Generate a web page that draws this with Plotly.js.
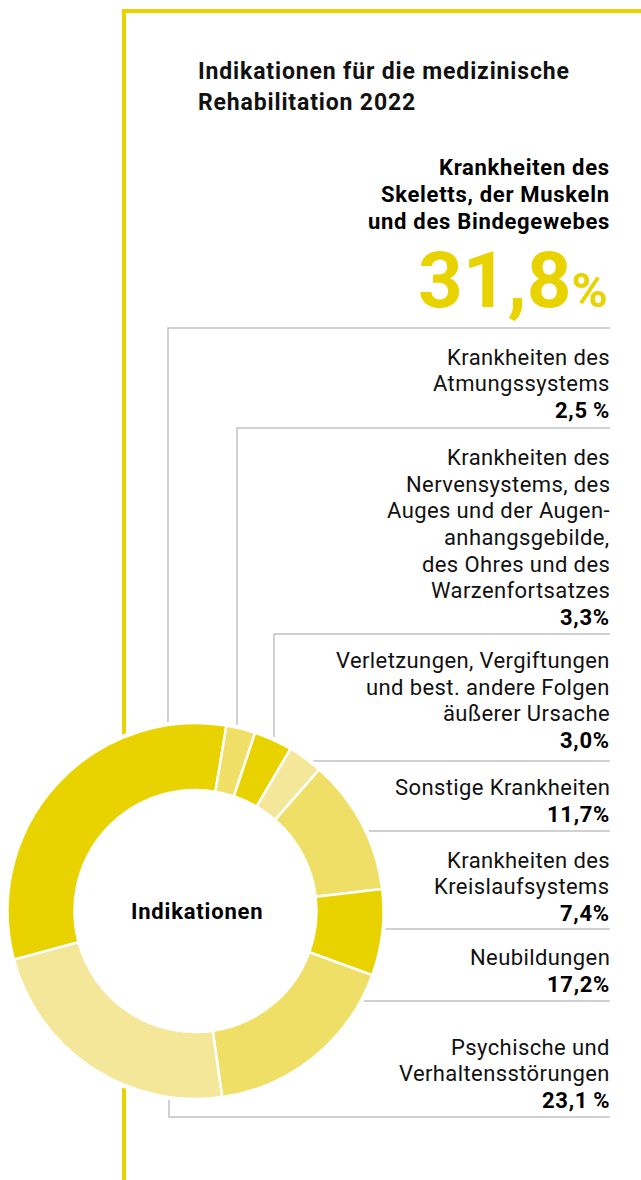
<!DOCTYPE html>
<html><head><meta charset="utf-8">
<script src="https://cdn.plot.ly/plotly-3.0.1.min.js"></script>
<style>html,body{margin:0;padding:0;background:#fff;}#chart{width:641px;height:1180px;}</style>
</head><body><div id="chart"></div>
<script>
// ---- data ----
const chartTitle = ['Indikationen für die medizinische', 'Rehabilitation 2022'];
const centerLabel = 'Indikationen';
const categories = [
  'Krankheiten des<br>Skeletts, der Muskeln<br>und des Bindegewebes',
  'Krankheiten des<br>Atmungssystems',
  'Krankheiten des<br>Nervensystems, des<br>Auges und der Augen-<br>anhangsgebilde,<br>des Ohres und des<br>Warzenfortsatzes',
  'Verletzungen, Vergiftungen<br>und best. andere Folgen<br>äußerer Ursache',
  'Sonstige Krankheiten',
  'Krankheiten des<br>Kreislaufsystems',
  'Neubildungen',
  'Psychische und<br>Verhaltensstörungen'
];
const shares = [31.8, 2.5, 3.3, 3.0, 11.7, 7.4, 17.2, 23.1];
const percentSpacing = ['', '\u2009', '', '', '', '', '', '\u2009'];

// ---- styling / layout ----
const W = 641, H = 1180;
const X = p => p / W, Y = p => 1 - p / H;
const dark = '#E8D300', mid = '#F0DF66', light = '#F4E79A';
const sliceColors = [dark, mid, dark, light, mid, dark, mid, light];
const cx = 195.5, cy = 911, R = 188, Rin = 121;
const labelRight = 610;
const leaderY = [328, 428, 634, 761, 831, 929, 1001, 1117];
const leaderX = [168, 237, 274, null, null, null, null, 169];
const valueGap = [0, 10, 9, 13, 9, 8, 9, 9];
const lineGap = 26.6;
const fontFam = 'Roboto, Arial, sans-serif';
const fs = 22;

const fmt = (v, i) => v.toFixed(1).replace('.', ',') + percentSpacing[i] + '%';

const trace = {
  type: 'pie',
  values: shares,
  labels: categories.map(c => c.replace(/<br>/g, ' ')),
  sort: false,
  direction: 'clockwise',
  rotation: -105,
  hole: Rin / R,
  textinfo: 'none',
  hoverinfo: 'label+percent',
  marker: { colors: sliceColors, line: { color: '#ffffff', width: 2.5 } },
  domain: { x: [X(cx - R), X(cx + R)], y: [Y(cy + R), Y(cy - R)] },
  showlegend: false
};

const shapes = [];
// yellow frame
shapes.push({ type: 'path', xref: 'paper', yref: 'paper', layer: 'below',
  path: `M ${X(124)} ${Y(H + 5)} L ${X(124)} ${Y(11)} L ${X(W + 5)} ${Y(11)}`,
  line: { color: dark, width: 4 } });
// gray leaders
leaderY.forEach((ly, i) => {
  let path;
  if (leaderX[i] !== null) {
    path = `M ${X(leaderX[i])} ${Y(cy)} L ${X(leaderX[i])} ${Y(ly)} L ${X(labelRight)} ${Y(ly)}`;
  } else {
    path = `M ${X(cx)} ${Y(ly)} L ${X(labelRight)} ${Y(ly)}`;
  }
  shapes.push({ type: 'path', xref: 'paper', yref: 'paper', layer: 'below', path,
    line: { color: '#C2C2C2', width: 1.5 } });
});
// white halo behind the donut
shapes.push({ type: 'circle', xref: 'paper', yref: 'paper', layer: 'below',
  x0: X(cx - R - 3), x1: X(cx + R + 3), y0: Y(cy + R + 3), y1: Y(cy - R - 3),
  fillcolor: '#ffffff', line: { width: 0 } });

const annotations = [];
function txt(text, xpx, baseline, size, weight, color, anchor, ls) {
  const t = ls ? `<span style="letter-spacing:${ls}px">${text}</span>` : text;
  annotations.push({ text: t, xref: 'paper', yref: 'paper', x: X(xpx), y: Y(baseline - 0.35 * size),
    xanchor: anchor || 'right', yanchor: 'middle', showarrow: false, borderpad: 0,
    font: { family: fontFam, size, weight, color: color || '#111111' } });
}
// title
txt(chartTitle[0], 197, 80, 23, 700, '#111111', 'left', 0.85);
txt(chartTitle[1], 197, 111, 23, 700, '#111111', 'left', 0.85);
// center label
txt(centerLabel, cx + 1, cy + 8, 22, 700, '#000000', 'center', 0.8);
// first (largest) category
categories[0].split('<br>').forEach((l, j) => txt(l, labelRight + 1, 175 + j * 27, fs, 700, '#000000', 'right', 0.7));
txt(shares[0].toFixed(1).replace('.', ',') + '<span style="font-size:49px">%</span>', 609, 308, 78, 700, dark);
// other categories
for (let i = 1; i < categories.length; i++) {
  const lines = categories[i].split('<br>');
  const base = leaderY[i] - valueGap[i];
  txt(fmt(shares[i], i), labelRight + 1, base, fs, 700, '#000000', 'right', 0.7);
  lines.slice().reverse().forEach((l, j) => txt(l, labelRight + 1, base - (j + 1) * lineGap, fs, 400, '#111111', 'right', 0.4));
}

const layout = {
  width: W, height: H, margin: { l: 0, r: 0, t: 0, b: 0 },
  paper_bgcolor: '#ffffff', plot_bgcolor: '#ffffff',
  shapes, annotations, showlegend: false
};
Plotly.newPlot('chart', [trace], layout, { displayModeBar: false, staticPlot: true });
</script>
</body></html>
